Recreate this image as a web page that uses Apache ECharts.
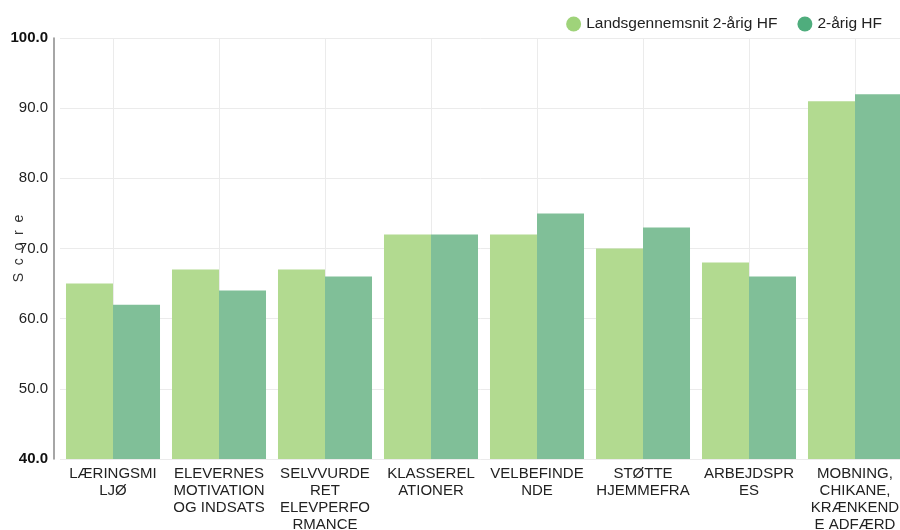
<!DOCTYPE html>
<html>
<head>
<meta charset="utf-8">
<script src="https://cdn.jsdelivr.net/npm/echarts@6/dist/echarts.min.js"></script>
<style>html,body{margin:0;padding:0;background:#fff}#c{width:900px;height:530px}</style>
</head>
<body>
<div id="c"></div>
<script>
const categories = [
  'LÆRINGSMI\nLJØ',
  'ELEVERNES\nMOTIVATION\nOG INDSATS',
  'SELVVURDE\nRET\nELEVPERFO\nRMANCE',
  'KLASSEREL\nATIONER',
  'VELBEFINDE\nNDE',
  'STØTTE\nHJEMMEFRA',
  'ARBEJDSPR\nES',
  'MOBNING,\nCHIKANE,\nKRÆNKEND\nE ADFÆRD'
];
const seriesNames = ['Landsgennemsnit 2-årig HF', '2-årig HF'];
const landsgennemsnit = [65, 67, 67, 72, 72, 70, 68, 91];
const hf2aarig = [62, 64, 66, 72, 75, 73, 66, 92];
const yMin = 40, yMax = 100, yStep = 10;

const font = '"Liberation Sans", Arial, Helvetica, sans-serif';
const chart = echarts.init(document.getElementById('c'), null, {renderer: 'canvas'});
chart.setOption({
  animation: false,
  textStyle: {fontFamily: font},
  legend: {
    right: 13, top: 11,
    icon: 'circle', itemWidth: 15, itemHeight: 15, itemGap: 20,
    textStyle: {fontSize: 15.5, color: '#222', fontFamily: font},
    data: [
      {name: seriesNames[0], itemStyle: {color: '#9fd37a', opacity: 1}},
      {name: seriesNames[1], itemStyle: {color: '#4fad7d', opacity: 1}}
    ]
  },
  grid: [
    {left: 60, top: 38, bottom: 71, width: 848, containLabel: false, outerBoundsMode: 'none'},
    {left: 113, top: 38, bottom: 71, width: 848, containLabel: false, outerBoundsMode: 'none'}
  ],
  xAxis: [
    {
      type: 'category', gridIndex: 0, data: categories,
      axisLine: {show: false}, axisTick: {show: false},
      splitLine: {show: false},
      axisLabel: {interval: 0, margin: 6, fontSize: 15, lineHeight: 17, color: '#222', fontFamily: font}
    },
    {
      type: 'value', gridIndex: 1, min: 0, max: 8, interval: 1,
      axisLine: {show: false}, axisTick: {show: false}, axisLabel: {show: false},
      splitLine: {show: true, lineStyle: {color: '#ebebeb', width: 1}}
    }
  ],
  yAxis: [
    {
      type: 'value', gridIndex: 0, min: yMin, max: yMax, interval: yStep, offset: 6,
      name: 'S  c  o  r  e', nameLocation: 'middle', nameGap: 28, nameRotate: 90,
      nameMoveOverlap: false,
      nameTextStyle: {fontSize: 14, color: '#333', fontFamily: font},
      axisLine: {show: true, lineStyle: {color: '#888', width: 1.5}},
      axisTick: {show: false},
      splitLine: {show: true, lineStyle: {color: '#ebebeb', width: 1}},
      axisLabel: {
        fontSize: 15, color: '#222', margin: 6, fontFamily: font,
        formatter: function (v) {
          const s = v.toFixed(1);
          return (v === yMin || v === yMax) ? '{b|' + s + '}' : s;
        },
        rich: {b: {fontWeight: 'bold', fontSize: 15, color: '#111', fontFamily: font}}
      }
    },
    {
      type: 'value', gridIndex: 1, min: yMin, max: yMax, interval: yStep, show: false,
      splitLine: {show: false}
    }
  ],
  series: [
    {
      name: seriesNames[0], type: 'bar', xAxisIndex: 0, yAxisIndex: 0,
      data: landsgennemsnit, barGap: '0%', barCategoryGap: '11.3%',
      itemStyle: {color: '#b2da90'}, z: 3
    },
    {
      name: seriesNames[1], type: 'bar', xAxisIndex: 0, yAxisIndex: 0,
      data: hf2aarig, barGap: '0%', barCategoryGap: '11.3%',
      itemStyle: {color: '#80bf98'}, z: 3
    }
  ]
});
</script>
</body>
</html>
